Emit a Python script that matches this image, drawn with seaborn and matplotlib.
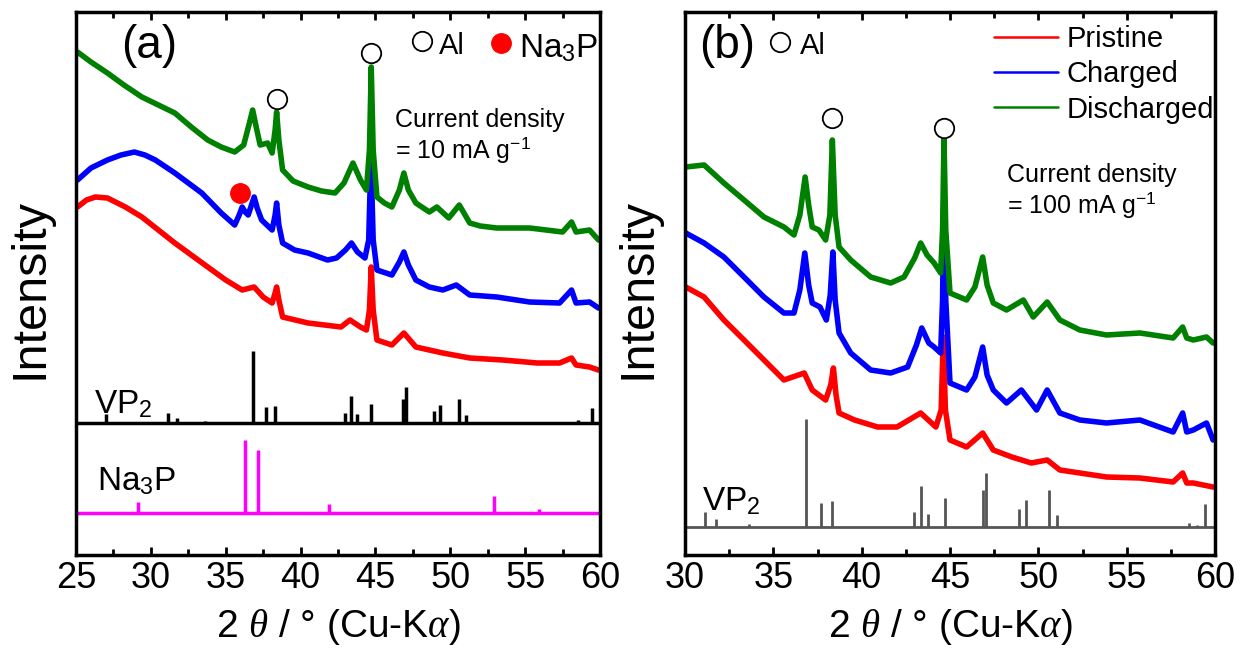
import matplotlib
matplotlib.use("Agg")
import matplotlib.pyplot as plt
import seaborn as sns
import pandas as pd
from matplotlib.ticker import MultipleLocator

sns.set_theme(style="white")
plt.rcParams['font.family'] = ['Liberation Sans', 'DejaVu Sans']
plt.rcParams['mathtext.fontset'] = 'custom'
plt.rcParams['mathtext.rm'] = 'Liberation Sans'
plt.rcParams['mathtext.it'] = 'Liberation Serif:italic'
plt.rcParams['mathtext.bf'] = 'Liberation Sans:bold'
plt.rcParams['text.color'] = 'black'
plt.rcParams['axes.labelcolor'] = 'black'
plt.rcParams['xtick.color'] = 'black'

# ---------------- data (arbitrary intensity units) ----------------
samples = ["Pristine", "Charged", "Discharged"]
colors = {"Pristine": "#ff0000", "Charged": "#0000ff", "Discharged": "#008000"}

# panel (a): 10 mA g-1
a_green_t = [25.1, 26.0, 27.1, 28.2, 29.4, 30.5, 31.6, 32.7, 33.8, 34.7, 35.6, 36.2, 36.55, 36.8, 37.05,
             37.3, 37.8, 38.1, 38.3, 38.4, 38.55, 38.8, 39.5, 40.5, 41.4, 42.3, 42.9, 43.5, 44.0, 44.4,
             44.6, 44.72, 44.85, 45.1, 45.6, 46.1, 46.6, 46.9, 47.2, 47.7, 48.6, 49.1, 49.9, 50.6, 51.3,
             52.0, 53.1, 55.3, 57.5, 58.1, 58.4, 59.3, 59.9]
a_green_i = [503, 493, 482, 470, 458, 450, 442, 428, 415, 408, 403, 410, 430, 445, 427,
             410, 412, 402, 425, 443, 415, 385, 374, 368, 364, 362, 372, 392, 375, 365,
             405, 488, 405, 358, 352, 348, 365, 382, 365, 352, 343, 348, 337, 350, 332,
             329, 327, 327, 323, 333, 323, 325, 315]

a_blue_t = [25.1, 26.0, 27.1, 28.0, 28.9, 29.6, 30.3, 31.6, 32.5, 33.4, 34.7, 35.6, 35.9, 36.1, 36.3,
            36.5, 36.9, 37.1, 37.4, 38.1, 38.3, 38.4, 38.55, 38.8, 39.6, 40.5, 41.8, 42.4, 43.0, 43.4,
            43.8, 44.3, 44.55, 44.7, 44.85, 45.1, 46.1, 46.6, 46.9, 47.2, 47.7, 48.6, 49.5, 50.4, 51.3,
            53.1, 55.3, 57.3, 58.1, 58.4, 59.3, 59.9]
a_blue_i = [375, 387, 395, 400, 403, 400, 395, 382, 372, 362, 342, 330, 340, 348, 343,
            340, 358, 347, 335, 325, 340, 352, 330, 312, 305, 302, 295, 297, 305, 312,
            303, 297, 315, 398, 315, 285, 280, 293, 303, 290, 275, 268, 265, 270, 260,
            258, 253, 252, 265, 252, 253, 247]

a_red_t = [25.1, 25.7, 26.3, 27.1, 28.3, 29.4, 30.5, 31.6, 32.7, 33.8, 35.0, 36.1, 36.9, 37.5, 38.1,
           38.3, 38.4, 38.55, 38.8, 40.5, 42.7, 43.3, 44.0, 44.4, 44.6, 44.72, 44.85, 45.1, 46.1, 46.9,
           47.7, 49.5, 51.3, 53.5, 55.8, 57.3, 58.1, 58.4, 59.3, 59.9]
a_red_i = [348, 355, 358, 357, 348, 338, 325, 312, 300, 288, 275, 265, 268, 258, 252,
           262, 268, 255, 238, 232, 228, 235, 228, 225, 245, 288, 245, 215, 210, 222,
           208, 202, 197, 195, 192, 192, 197, 190, 188, 185]

# panel (b): 100 mA g-1
b_green_t = [30.04, 31.08, 32.2, 33.34, 34.47, 35.6, 36.17, 36.5, 36.8, 37.0, 37.2, 37.58, 37.96, 38.2,
             38.34, 38.5, 38.72, 39.38, 40.51, 41.64, 42.4, 43.0, 43.34, 43.7, 44.1, 44.47, 44.58, 44.66,
             44.76, 45.0, 45.94, 46.41, 46.85, 47.1, 47.45, 48.2, 49.15, 49.71, 50.5, 51.22, 52.35,
             53.86, 55.75, 57.63, 58.17, 58.4, 58.77, 59.52, 59.89]
b_green_i = [388, 390, 372, 355, 338, 328, 320, 340, 378, 350, 328, 325, 315, 340,
             415, 340, 308, 295, 278, 272, 278, 297, 312, 300, 292, 282, 325, 417,
             325, 262, 255, 268, 298, 270, 252, 245, 255, 238, 253, 235, 225,
             220, 222, 217, 228, 217, 215, 218, 212]

b_blue_t = [30.04, 31.08, 32.2, 33.34, 34.47, 35.6, 36.17, 36.5, 36.78, 37.0, 37.2, 37.64, 38.0, 38.22,
            38.37, 38.5, 38.72, 39.38, 40.51, 41.64, 42.6, 43.1, 43.4, 43.8, 44.1, 44.47, 44.58, 44.66,
            44.76, 45.0, 45.94, 46.41, 46.85, 47.1, 47.45, 48.2, 49.04, 49.9, 50.5, 51.22, 52.35,
            53.86, 55.75, 57.63, 58.17, 58.4, 58.77, 59.52, 59.89]
b_blue_i = [322, 312, 298, 278, 258, 242, 242, 265, 302, 270, 252, 248, 235, 260,
            303, 255, 222, 202, 185, 182, 188, 210, 227, 212, 208, 202, 255, 375,
            255, 172, 165, 178, 208, 180, 165, 152, 165, 145, 165, 142, 135,
            132, 135, 123, 142, 123, 125, 132, 115]

b_red_t = [30.04, 31.08, 32.2, 33.34, 34.47, 35.6, 36.75, 37.2, 37.96, 38.25, 38.4, 38.55, 38.72, 39.6,
           40.9, 42.0, 43.34, 44.2, 44.5, 44.62, 44.74, 45.0, 45.94, 46.85, 47.45, 48.5, 49.6, 50.5,
           51.22, 52.35, 53.86, 55.75, 57.63, 58.17, 58.4, 58.77, 59.89]
b_red_i = [268, 258, 235, 215, 195, 175, 182, 165, 155, 170, 187, 160, 142, 135,
           128, 128, 142, 128, 145, 218, 145, 115, 108, 122, 105, 98, 92, 95,
           85, 82, 78, 77, 73, 82, 72, 72, 68]

# reference patterns (relative intensity, %)
vp2_t = [27.0, 31.15, 31.75, 33.6, 36.85, 37.7, 38.3, 42.95, 43.35, 43.75, 44.7, 46.85, 47.05,
         48.9, 49.3, 50.6, 51.05, 58.55, 59.0, 59.45]
vp2_rel = [12, 14, 7, 3, 100, 22, 24, 14, 38, 12, 27, 34, 50, 17, 25, 34, 11, 4, 2, 21]
na3p_t = [29.15, 36.3, 37.15, 41.9, 52.9, 55.95]
na3p_rel = [15, 100, 86, 13, 23, 5]

# Al / Na3P markers (2theta, intensity)
a_al_t, a_al_i = [38.4, 44.7], [456, 502]
a_na3p_t, a_na3p_i = [35.95, ], [362, ]
b_al_t, b_al_i = [38.3, 44.65], [437, 427]

xticks_a = [25, 30, 35, 40, 45, 50, 55, 60]
xticks_b = [30, 35, 40, 45, 50, 55, 60]


def frame(ts, ii, name):
    return pd.DataFrame({"theta": ts, "intensity": ii, "sample": name})


df_a = pd.concat([frame(a_red_t, a_red_i, "Pristine"), frame(a_blue_t, a_blue_i, "Charged"),
                  frame(a_green_t, a_green_i, "Discharged")], ignore_index=True)
df_b = pd.concat([frame(b_red_t, b_red_i, "Pristine"), frame(b_blue_t, b_blue_i, "Charged"),
                  frame(b_green_t, b_green_i, "Discharged")], ignore_index=True)

# ---------------- figure ----------------
W, H = 1245, 655
fig = plt.figure(figsize=(W / 100, H / 100), dpi=100)
ax_a = fig.add_axes([76 / W, 1 - 555 / H, 524 / W, 543 / H])
ax_b = fig.add_axes([685 / W, 1 - 555 / H, 530 / W, 543 / H])

tick_font = 26
for ax, df, xt, xlim in [(ax_a, df_a, xticks_a, (25, 60)), (ax_b, df_b, xticks_b, (30, 60))]:
    sns.lineplot(data=df, x="theta", y="intensity", hue="sample", hue_order=samples,
                 palette=colors, sort=False, estimator=None, lw=4.0, ax=ax,
                 legend=(ax is ax_b))
    ax.set_xlim(*xlim)
    ax.set_ylim(0, 543)
    ax.set_xticks(xt)
    ax.xaxis.set_minor_locator(MultipleLocator(2.5))
    ax.set_yticks([])
    ax.tick_params(axis="x", which="both", direction="in", top=True, bottom=True,
                   width=2, labelsize=tick_font, pad=4, colors="black")
    ax.tick_params(axis="x", which="major", length=6)
    ax.tick_params(axis="x", which="minor", length=4)
    for s in ax.spines.values():
        s.set_linewidth(2.5)
        s.set_color("black")
    ax.set_xlabel(r"2 $\theta$ / ° (Cu-K$\alpha$)", fontsize=28, labelpad=8, color="black")
    ax.set_ylabel("Intensity", fontsize=35, color="black")
    ax.set_facecolor("white")

ax_a.yaxis.set_label_coords(-0.045, 0.49)
ax_b.yaxis.set_label_coords(-0.046, 0.49)

# reference sticks panel (a)
base_vp2_a, sc_vp2_a = 132, 0.72
ax_a.axhline(base_vp2_a, color="black", lw=2.5)
ax_a.vlines(vp2_t, base_vp2_a, [base_vp2_a + r * sc_vp2_a for r in vp2_rel], color="black", lw=2.5)
base_na_a, sc_na_a = 42, 0.73
ax_a.axhline(base_na_a, color="#ff00ff", lw=2.5)
ax_a.vlines(na3p_t, base_na_a, [base_na_a + r * sc_na_a for r in na3p_rel], color="#ff00ff", lw=2.5)

# reference sticks panel (b)
base_vp2_b, sc_vp2_b = 28, 1.08
ax_b.axhline(base_vp2_b, color="#555555", lw=2)
ax_b.vlines(vp2_t, base_vp2_b, [base_vp2_b + r * sc_vp2_b for r in vp2_rel], color="#555555", lw=2)

# markers
ax_a.plot(a_al_t, a_al_i, "o", ms=14, mfc="white", mec="black", mew=1.3, ls="none")
ax_a.plot(a_na3p_t, a_na3p_i, "o", ms=14, mfc="#ff0000", mec="#ff0000", ls="none")
ax_b.plot(b_al_t, b_al_i, "o", ms=14, mfc="white", mec="black", mew=1.3, ls="none")


def fx(ax, px):
    left = 76 if ax is ax_a else 685
    width = 524 if ax is ax_a else 530
    return (px - left) / width


def fy(py):
    return (555 - py) / 543


# panel labels and annotations
ax_a.text(fx(ax_a, 149), fy(46), "(a)", fontsize=33, ha="center", va="center", transform=ax_a.transAxes)
ax_b.text(fx(ax_b, 727), fy(46), "(b)", fontsize=33, ha="center", va="center", transform=ax_b.transAxes)

ax_a.plot([fx(ax_a, 421.7)], [fy(41)], "o", ms=14, mfc="white", mec="black", mew=1.3,
          transform=ax_a.transAxes, clip_on=False)
ax_a.text(fx(ax_a, 439), fy(54), "Al", fontsize=21, ha="left", va="baseline", transform=ax_a.transAxes)
ax_a.plot([fx(ax_a, 500.7)], [fy(43)], "o", ms=14, mfc="#ff0000", mec="#ff0000",
          transform=ax_a.transAxes, clip_on=False)
ax_a.text(fx(ax_a, 519), fy(57), "Na$_3$P", fontsize=24, ha="left", va="baseline", transform=ax_a.transAxes)

ax_b.plot([fx(ax_b, 780)], [fy(42)], "o", ms=14, mfc="white", mec="black", mew=1.3,
          transform=ax_b.transAxes, clip_on=False)
ax_b.text(fx(ax_b, 800), fy(54), "Al", fontsize=21, ha="left", va="baseline", transform=ax_b.transAxes)

ax_a.text(fx(ax_a, 395), fy(127), "Current density", fontsize=18, ha="left", va="baseline",
          transform=ax_a.transAxes)
ax_a.text(fx(ax_a, 395), fy(158), "= 10 mA g$^{-1}$", fontsize=18, ha="left", va="baseline",
          transform=ax_a.transAxes)
ax_b.text(fx(ax_b, 1007), fy(182), "Current density", fontsize=18, ha="left", va="baseline",
          transform=ax_b.transAxes)
ax_b.text(fx(ax_b, 1007), fy(213), "= 100 mA g$^{-1}$", fontsize=18, ha="left", va="baseline",
          transform=ax_b.transAxes)

ax_a.text(fx(ax_a, 94), fy(413), "VP$_2$", fontsize=24, ha="left", va="baseline", transform=ax_a.transAxes)
ax_a.text(fx(ax_a, 97), fy(490), "Na$_3$P", fontsize=24, ha="left", va="baseline", transform=ax_a.transAxes)
ax_b.text(fx(ax_b, 702), fy(510), "VP$_2$", fontsize=24, ha="left", va="baseline", transform=ax_b.transAxes)

# legend panel (b)
handles, labels = ax_b.get_legend_handles_labels()
for h in handles:
    h.set_linewidth(1.8)
leg = ax_b.legend(handles, labels, loc="upper left", bbox_to_anchor=(fx(ax_b, 994), fy(25)),
                  frameon=False, fontsize=21, handlelength=2.2, handletextpad=0.3,
                  labelspacing=0.25, borderaxespad=0, borderpad=0)
for t in leg.get_texts():
    t.set_color("black")

fig.savefig("out.png", dpi=100, facecolor="white")
